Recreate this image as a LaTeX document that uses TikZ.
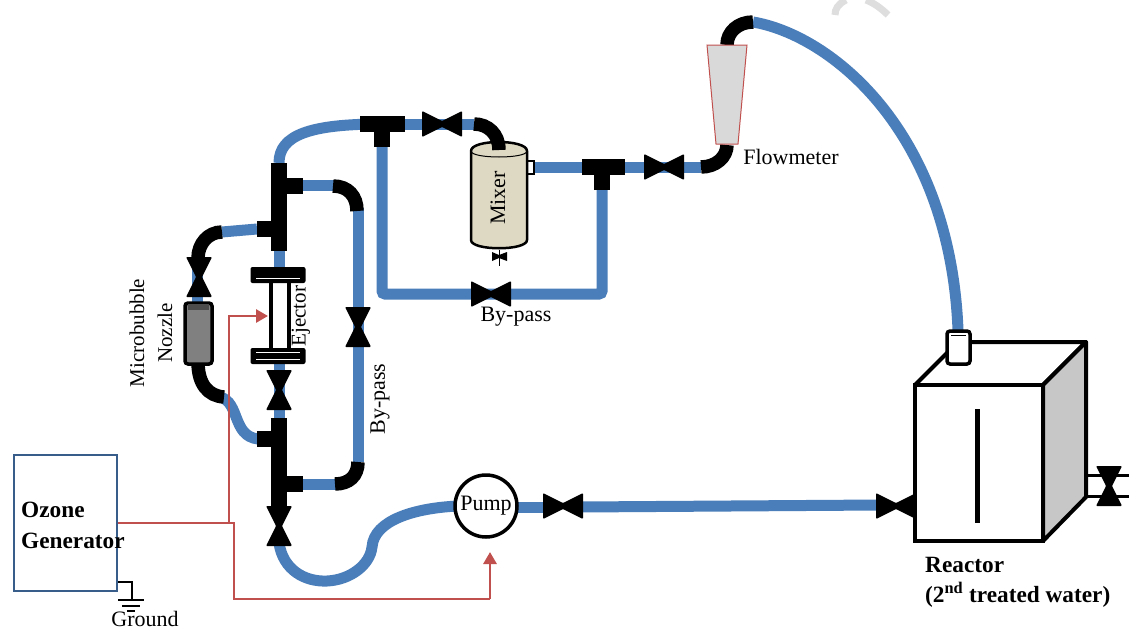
\documentclass[tikz,border=0pt]{standalone}
\usepackage{fontspec}
\setmainfont{Liberation Serif}
\usetikzlibrary{arrows.meta}
\definecolor{pipeblue}{HTML}{4A7EBB}
\definecolor{redline}{HTML}{C0504D}
\definecolor{boxblue}{HTML}{385D8A}
\definecolor{mixfill}{HTML}{DDD9C3}
\tikzset{
 x=1pt,y=-1pt,
 pipe/.style={draw=pipeblue,line width=11pt,line cap=butt},
 elbow/.style={draw=black,line width=13.5pt,line cap=butt},
 tee/.style={draw=black,line width=16pt,line cap=butt},
 redpipe/.style={draw=redline,line width=2.8pt},
 redarrow/.style={redpipe,-{Triangle[length=12pt,width=13pt]}},
 lab/.style={font=\fontsize{22}{24}\selectfont,inner sep=0pt},
 blab/.style={font=\fontsize{23.3}{26}\selectfont\bfseries,inner sep=0pt,anchor=west},
 valve/.pic={\fill[black,rounded corners=1pt] (-20,-13)--(0,-3)--(20,-13)--(20,13)--(0,3)--(-20,13)--cycle;},
 flange/.pic={\fill[black,rounded corners=2pt] (-27.5,-8) rectangle (27.5,8);},
}
\begin{document}
\begin{tikzpicture}
\useasboundingbox (0,0) rectangle (1129,629);
\fill[white] (0,0) rectangle (1129,629);
% watermark remnants
\draw[line width=7pt,draw=black!13] (846,0) .. controls (838,4) and (835,9) .. (835,15);
\draw[line width=7pt,draw=black!13] (866,0) .. controls (874,3) and (882,9) .. (888,15);

% named points
\coordinate (teeA) at (279,163);
\coordinate (teeTop) at (382,124);
\coordinate (teeMix) at (602,167);
\coordinate (bendMix) at (474,124);
\coordinate (fmIn) at (727,145);
\coordinate (fmOut) at (727,45);

% ---- blue pipes
\draw[pipe] (teeA) .. controls (279,135) and (310,124) .. (teeTop);
\draw[pipe] (teeTop) -- (bendMix);
\draw[pipe] (530,167) -- (teeMix) -- (701,167);
\draw[pipe,rounded corners=3pt] (602,180) -- (602,294) -- (382,294) -- (382,140);
\draw[pipe] (753,22) .. controls (830,35) and (950,130) .. (958,330);
\draw[pipe] (302,185) -- (335,185);
\draw[pipe] (358,208) -- (358,462);
\draw[pipe] (302,484) -- (336,484);
\draw[pipe] (257,229) -- (222,232);
\draw[pipe] (197,258) -- (197,305);
\draw[pipe] (279,248) -- (279,270);
\draw[pipe] (279,362) -- (279,420);
\draw[pipe] (220,397) .. controls (240,402) and (232,436) .. (258,439);
\draw[pipe] (279,543) .. controls (283,570) and (305,582) .. (327,581) .. controls (350,580) and (370,565) .. (372,547) .. controls (374,520) and (415,508) .. (458,506);
\draw[pipe] (518,507) -- (545,507);
\draw[pipe] (580,507) -- (880,505);

% ---- black bends and tees
\draw[elbow] (701,167) .. controls (716,167) and (727,157) .. (fmIn);
\draw[elbow] (fmOut) .. controls (727,32) and (738,22) .. (753,22);
\draw[elbow] (333,186) .. controls (348,186) and (357,196) .. (357,211);
\draw[elbow] (358,462) .. controls (358,476) and (349,484) .. (335,484);
\draw[elbow] (222,232) .. controls (208,232) and (198,244) .. (198,258);
\draw[elbow] (198,362) .. controls (198,384) and (208,396) .. (224,397);
\draw[tee] (360,124) -- (405,124);
\draw[tee] (382,124) -- (382,147);
\draw[tee] (582,167) -- (625,167);
\draw[tee] (602,167) -- (602,190);
\draw[tee] (279,163) -- (279,251);
\draw[tee] (279,186) -- (303,186);
\draw[tee] (279,229) -- (257,229);
\draw[tee] (279,418) -- (279,510);
\draw[tee] (279,439) -- (257,439);
\draw[tee] (279,484) -- (303,484);

% ---- valves
\path (442,124) pic {valve};
\path (664,167) pic {valve};
\path (491,294) pic {valve};
\path (199,277) pic[rotate=90] {valve};
\path (358,327) pic[rotate=90] {valve};
\path (279,390) pic[rotate=90] {valve};
\path (279,526) pic[rotate=90] {valve};
\path (563,506) pic {valve};
\path (896,506) pic {valve};

% ---- ejector
\draw[black,line width=4pt] (271,282) -- (271,349) (289,282) -- (289,349);
\path (278,275) pic {flange};
\path (278,356) pic {flange};
\draw[white,line width=1pt] (256,278) -- (300,278) (256,352) -- (300,352) (256,359) -- (300,359);

% ---- nozzle
\draw[black,line width=3.5pt,fill=black!50,rounded corners=3pt] (185,303) rectangle (212,364);
\fill[black!70] (188,304) rectangle (209,310);

% ---- mixer
\draw[black,line width=2pt,fill=white] (527,161) rectangle (534,174);
\draw[black,line width=2.5pt,fill=mixfill] (471,151) -- (471,240)
  .. controls (471,251) and (527,251) .. (527,240) -- (527,151)
  .. controls (527,139) and (471,139) .. (471,151) -- cycle;
\draw[black,line width=1pt] (471,151) .. controls (471,159) and (527,159) .. (527,151);
\draw[elbow] (bendMix) .. controls (488,124) and (499,134) .. (499,150);
\fill[black] (492,252) -- (499,255) -- (507,252) -- (507,261) -- (499,258) -- (492,261) -- cycle;
\draw[black,line width=1pt] (499,250) -- (499,266);

% ---- flowmeter
\draw[redline,fill=black!15,line width=1pt] (707,45) -- (747,45) -- (738,144) -- (716,144) -- cycle;

% ---- reactor
\draw[black,line width=4pt,fill=white,line join=round] (915,385) -- (958,342) -- (1086,342) -- (1043,385) -- cycle;
\draw[black,line width=4pt,fill=black!22,line join=round] (1043,385) -- (1086,342) -- (1086,497) -- (1043,541) -- cycle;
\draw[black,line width=4pt,fill=white] (915,385) rectangle (1043,541);
\draw[black,line width=5pt] (977,409) -- (977,523);
\draw[black,line width=3.5pt,fill=white,rounded corners=3pt] (947,331) rectangle (970,364);
\draw[black,line width=1pt] (951,335) -- (966,335);
\draw[black,line width=3pt] (1087,475) -- (1129,475) (1087,496) -- (1129,496);
\path (1109,486) pic[rotate=90] {valve};

% ---- pump and generator
\node[circle,draw=black,line width=3.5pt,fill=white,minimum size=62pt,inner sep=0pt,lab] (pump) at (486,506) {Pump};
\node[draw=boxblue,line width=2.2pt,fill=white,minimum width=103pt,minimum height=136pt,inner sep=0pt] (ozone) at (65.5,523) {};
\node[blab] (ozoneA) at (21,510) {Ozone};
\node[blab] (ozoneB) at (21,541) {Generator};

% ---- red lines
\coordinate (redJ) at (229,523);
\coordinate (ejIn) at (268,316);
\coordinate (redK) at (234,523);
\coordinate (redL) at (234,599);
\coordinate (redM) at (490,599);
\coordinate (pumpIn) at (490,552);
\coordinate (redN) at (229,316);
\draw[redpipe] (ozone.east) -- (redK) -- (redL) -- (redM);
\draw[redarrow] (redM) -- (pumpIn);
\draw[redarrow] (redJ) -- (redN) -- (ejIn);

% ---- ground
\draw[black,line width=1.2pt] (118,582) -- (132,582) -- (132,600);
\draw[black,line width=1.2pt] (118,600) -- (144,600) (122,606) -- (140,606) (127,611) -- (135,611);

% ---- labels
\node[lab,rotate=90,font=\fontsize{21}{24}\selectfont] (lMicro) at (137,333) {Microbubble};
\node[lab,rotate=90,font=\fontsize{21}{24}\selectfont] (lNoz) at (165,333) {Nozzle};
\node[lab,rotate=90,font=\fontsize{21}{24}\selectfont] (lEj) at (301,316) {Ejector};
\node[lab,rotate=90] (lBy) at (380,399) {By-pass};
\node[lab] (lBy2) at (516,317) {By-pass};
\node[lab] (lFm) at (791,157) {Flowmeter};
\node[lab,rotate=90] (lMix) at (498,198) {Mixer};
\node[lab,anchor=base] (lGround) at (145,626) {Ground};
\node[blab] (lR1) at (925,565) {Reactor};
\node[blab] (lR2) at (925,595) {(2\textsuperscript{nd} treated water)};
\end{tikzpicture}
\end{document}
